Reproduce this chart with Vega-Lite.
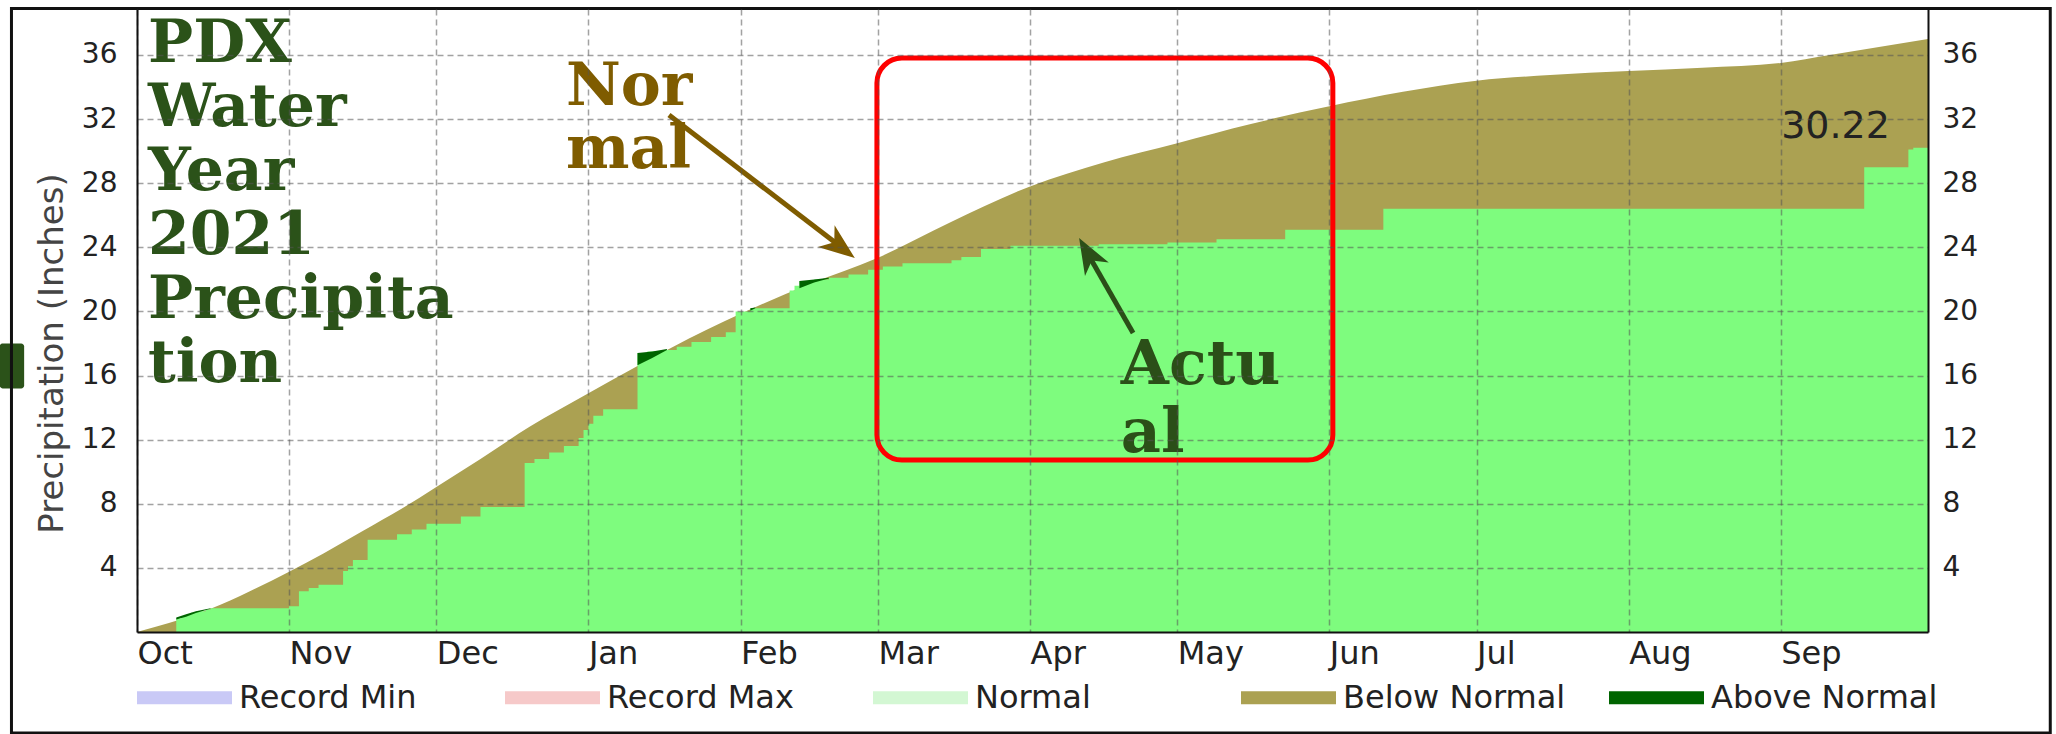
{
  "$schema": "https://vega.github.io/schema/vega-lite/v6.json",
  "width": 1791,
  "height": 623,
  "autosize": {"type": "none"},
  "padding": {"left": 137, "top": 9, "right": 128, "bottom": 102},
  "background": "white",
  "config": {
    "view": {"stroke": null},
    "axis": {"ticks": false, "tickSize": 0, "gridColor": "#555555", "gridOpacity": 0.55, "gridDash": [6, 4], "gridWidth": 1.5, "labelFont": "DejaVu Sans", "labelColor": "#222222", "titleFont": "DejaVu Sans"}
  },
  "datasets": {
    "normal": [
      {"date": "2020-10-01", "normal": 0.0},
      {"date": "2020-10-05", "normal": 0.35},
      {"date": "2020-10-10", "normal": 0.8},
      {"date": "2020-10-16", "normal": 1.45},
      {"date": "2020-10-24", "normal": 2.55},
      {"date": "2020-11-01", "normal": 3.76},
      {"date": "2020-11-08", "normal": 4.9},
      {"date": "2020-11-16", "normal": 6.3},
      {"date": "2020-11-24", "normal": 7.7},
      {"date": "2020-12-01", "normal": 9.05},
      {"date": "2020-12-10", "normal": 10.8},
      {"date": "2020-12-20", "normal": 12.8},
      {"date": "2021-01-01", "normal": 14.9},
      {"date": "2021-01-11", "normal": 16.6},
      {"date": "2021-01-18", "normal": 17.75},
      {"date": "2021-02-01", "normal": 19.85},
      {"date": "2021-02-15", "normal": 21.7},
      {"date": "2021-03-01", "normal": 23.35},
      {"date": "2021-03-16", "normal": 25.6},
      {"date": "2021-04-01", "normal": 27.8},
      {"date": "2021-04-16", "normal": 29.3},
      {"date": "2021-05-01", "normal": 30.5},
      {"date": "2021-05-16", "normal": 31.7},
      {"date": "2021-06-01", "normal": 32.8},
      {"date": "2021-06-16", "normal": 33.7},
      {"date": "2021-07-01", "normal": 34.4},
      {"date": "2021-07-16", "normal": 34.75},
      {"date": "2021-08-01", "normal": 35.0},
      {"date": "2021-08-16", "normal": 35.2},
      {"date": "2021-09-01", "normal": 35.5},
      {"date": "2021-09-11", "normal": 36.0},
      {"date": "2021-09-21", "normal": 36.5},
      {"date": "2021-10-01", "normal": 37.0}
    ],
    "actual": [
      {"date": "2020-10-01", "actual": 0.0},
      {"date": "2020-10-09", "actual": 0.85},
      {"date": "2020-10-10", "actual": 0.97},
      {"date": "2020-10-11", "actual": 1.08},
      {"date": "2020-10-12", "actual": 1.2},
      {"date": "2020-10-13", "actual": 1.3},
      {"date": "2020-10-15", "actual": 1.4},
      {"date": "2020-10-16", "actual": 1.48},
      {"date": "2020-11-01", "actual": 1.6},
      {"date": "2020-11-03", "actual": 2.55},
      {"date": "2020-11-05", "actual": 2.75},
      {"date": "2020-11-07", "actual": 2.95},
      {"date": "2020-11-12", "actual": 3.8},
      {"date": "2020-11-13", "actual": 4.1},
      {"date": "2020-11-14", "actual": 4.5},
      {"date": "2020-11-17", "actual": 5.75},
      {"date": "2020-11-23", "actual": 6.1},
      {"date": "2020-11-26", "actual": 6.4},
      {"date": "2020-11-29", "actual": 6.75},
      {"date": "2020-12-06", "actual": 7.2},
      {"date": "2020-12-10", "actual": 7.8},
      {"date": "2020-12-19", "actual": 10.55},
      {"date": "2020-12-21", "actual": 10.8},
      {"date": "2020-12-24", "actual": 11.2},
      {"date": "2020-12-27", "actual": 11.6},
      {"date": "2020-12-30", "actual": 12.1},
      {"date": "2020-12-31", "actual": 12.6},
      {"date": "2021-01-01", "actual": 13.0},
      {"date": "2021-01-02", "actual": 13.5},
      {"date": "2021-01-04", "actual": 13.9},
      {"date": "2021-01-11", "actual": 17.4},
      {"date": "2021-01-13", "actual": 17.5},
      {"date": "2021-01-16", "actual": 17.6},
      {"date": "2021-01-19", "actual": 17.8},
      {"date": "2021-01-22", "actual": 18.1},
      {"date": "2021-01-26", "actual": 18.4},
      {"date": "2021-01-29", "actual": 18.7},
      {"date": "2021-01-31", "actual": 20.0},
      {"date": "2021-02-03", "actual": 20.2},
      {"date": "2021-02-11", "actual": 21.3},
      {"date": "2021-02-12", "actual": 21.6},
      {"date": "2021-02-13", "actual": 21.9},
      {"date": "2021-02-16", "actual": 22.0},
      {"date": "2021-02-19", "actual": 22.1},
      {"date": "2021-02-23", "actual": 22.3},
      {"date": "2021-02-27", "actual": 22.6},
      {"date": "2021-03-02", "actual": 22.8},
      {"date": "2021-03-06", "actual": 23.0},
      {"date": "2021-03-16", "actual": 23.2},
      {"date": "2021-03-18", "actual": 23.4},
      {"date": "2021-03-22", "actual": 23.9},
      {"date": "2021-03-28", "actual": 24.1},
      {"date": "2021-04-15", "actual": 24.2},
      {"date": "2021-04-29", "actual": 24.3},
      {"date": "2021-05-09", "actual": 24.5},
      {"date": "2021-05-23", "actual": 25.1},
      {"date": "2021-06-12", "actual": 26.4},
      {"date": "2021-09-18", "actual": 29.0},
      {"date": "2021-09-27", "actual": 30.1},
      {"date": "2021-09-28", "actual": 30.22},
      {"date": "2021-10-01", "actual": 30.22}
    ],
    "above": [
      {"ep": 1, "date": "2020-10-09", "actual": 0.9, "normal": 0.78},
      {"ep": 1, "date": "2020-10-11", "actual": 1.1, "normal": 0.95},
      {"ep": 1, "date": "2020-10-13", "actual": 1.3, "normal": 1.18},
      {"ep": 1, "date": "2020-10-16", "actual": 1.48, "normal": 1.45},
      {"ep": 2, "date": "2021-01-11", "actual": 17.4, "normal": 16.65},
      {"ep": 2, "date": "2021-01-14", "actual": 17.5, "normal": 17.1},
      {"ep": 2, "date": "2021-01-17", "actual": 17.65, "normal": 17.6},
      {"ep": 3, "date": "2021-02-03", "actual": 20.2, "normal": 20.05},
      {"ep": 3, "date": "2021-02-04", "actual": 20.25, "normal": 20.2},
      {"ep": 4, "date": "2021-02-13", "actual": 21.9, "normal": 21.45},
      {"ep": 4, "date": "2021-02-16", "actual": 22.0, "normal": 21.8},
      {"ep": 4, "date": "2021-02-19", "actual": 22.1, "normal": 22.05}
    ]
  },
  "layer": [
    {
      "data": {"name": "normal"},
      "mark": {"type": "area", "interpolate": "monotone", "opacity": 1},
      "encoding": {
        "x": {
          "field": "date", "type": "temporal",
          "scale": {"type": "utc", "nice": false, "domain": [{"year": 2020, "month": 10, "date": 1, "utc": true}, {"year": 2021, "month": 10, "date": 1, "utc": true}]},
          "axis": {
            "title": null, "format": "%b", "grid": true, "zindex": 1,
            "values": [
              {"year": 2020, "month": 10, "date": 1, "utc": true},
              {"year": 2020, "month": 11, "date": 1, "utc": true},
              {"year": 2020, "month": 12, "date": 1, "utc": true},
              {"year": 2021, "month": 1, "date": 1, "utc": true},
              {"year": 2021, "month": 2, "date": 1, "utc": true},
              {"year": 2021, "month": 3, "date": 1, "utc": true},
              {"year": 2021, "month": 4, "date": 1, "utc": true},
              {"year": 2021, "month": 5, "date": 1, "utc": true},
              {"year": 2021, "month": 6, "date": 1, "utc": true},
              {"year": 2021, "month": 7, "date": 1, "utc": true},
              {"year": 2021, "month": 8, "date": 1, "utc": true},
              {"year": 2021, "month": 9, "date": 1, "utc": true}
            ],
            "labelAlign": "left", "labelBaseline": "top", "labelPadding": 6, "labelFontSize": 32,
            "labelOverlap": false, "labelFlush": false, "labelBound": false,
            "domain": true, "domainColor": "#111111", "domainWidth": 2
          }
        },
        "y": {
          "field": "normal", "type": "quantitative",
          "scale": {"domain": [0, 38.87], "nice": false, "zero": false},
          "axis": {
            "orient": "left", "values": [4, 8, 12, 16, 20, 24, 28, 32, 36], "grid": true, "zindex": 1,
            "labelFontSize": 28, "labelPadding": 20,
            "domain": true, "domainColor": "#111111", "domainWidth": 2,
            "title": "Precipitation (Inches)", "titleFontSize": 34, "titleColor": "#444444", "titleFontWeight": "normal",
            "titleX": -85, "titleY": 344, "titleAngle": 270, "titleAlign": "center", "titleBaseline": "middle"
          }
        },
        "color": {
          "datum": "Below Normal", "type": "nominal",
          "scale": {"domain": ["Record Min", "Record Max", "Normal", "Below Normal", "Above Normal"], "range": ["#c9c9f6", "#f6c9c9", "#d3f7d3", "#aba152", "#006400"]},
          "legend": {
            "orient": "none", "legendX": 0, "legendY": 641, "direction": "horizontal", "title": null,
            "symbolType": "M-1,-0.137H1V0.137H-1Z", "symbolSize": 9025, "symbolStrokeWidth": 0, "symbolOpacity": 1,
            "labelFont": "DejaVu Sans", "labelFontSize": 32, "labelColor": "#222222", "labelOffset": 7, "labelLimit": 400,
            "gridAlign": "all", "columnPadding": 39, "padding": 0
          }
        }
      }
    },
    {
      "data": {"name": "actual"},
      "mark": {"type": "area", "interpolate": "step-after", "color": "#7efc7e", "opacity": 1},
      "encoding": {
        "x": {"field": "date", "type": "temporal", "axis": null},
        "y": {
          "field": "actual", "type": "quantitative",
          "axis": {
            "orient": "right", "values": [4, 8, 12, 16, 20, 24, 28, 32, 36], "grid": false, "zindex": 1, "title": null,
            "labelFontSize": 28, "labelPadding": 14, "labelAlign": "left",
            "domain": true, "domainColor": "#111111", "domainWidth": 2
          }
        }
      }
    },
    {
      "data": {"name": "above"},
      "mark": {"type": "area", "interpolate": "linear", "opacity": 1},
      "encoding": {
        "x": {"field": "date", "type": "temporal", "axis": null},
        "y": {"field": "actual", "type": "quantitative", "axis": null},
        "y2": {"field": "normal"},
        "detail": {"field": "ep", "type": "nominal"},
        "color": {"datum": "Above Normal", "type": "nominal", "legend": null}
      }
    },
    {
      "data": {"values": [{}]},
      "mark": {"type": "rect", "filled": false, "stroke": "#ff0000", "strokeWidth": 5, "cornerRadius": 25},
      "encoding": {
        "x": {"datum": {"year": 2021, "month": 2, "date": 28, "hours": 19, "utc": true}, "type": "temporal", "axis": null},
        "x2": {"datum": {"year": 2021, "month": 6, "date": 1, "hours": 17, "utc": true}},
        "y": {"datum": 35.81, "type": "quantitative", "axis": null},
        "y2": {"datum": 10.73}
      }
    },
    {
      "data": {"values": [{}]},
      "mark": {"type": "rule", "color": "#7f5c00", "strokeWidth": 5},
      "encoding": {
        "x": {"datum": {"year": 2021, "month": 1, "date": 17, "hours": 10, "utc": true}, "type": "temporal", "axis": null},
        "x2": {"datum": {"year": 2021, "month": 2, "date": 21, "hours": 2, "utc": true}},
        "y": {"datum": 32.25, "type": "quantitative", "axis": null},
        "y2": {"datum": 24.11}
      }
    },
    {
      "data": {"values": [{}]},
      "mark": {"type": "point", "shape": "M0,0L-0.38,1L0,0.72L0.38,1Z", "size": 5184, "angle": 127.5, "filled": true, "color": "#7f5c00", "opacity": 1, "strokeWidth": 0},
      "encoding": {
        "x": {"datum": {"year": 2021, "month": 2, "date": 24, "hours": 7, "utc": true}, "type": "temporal", "axis": null},
        "y": {"datum": 23.33, "type": "quantitative", "axis": null}
      }
    },
    {
      "data": {"values": [{}]},
      "mark": {"type": "rule", "color": "#2b4f18", "strokeWidth": 5},
      "encoding": {
        "x": {"datum": {"year": 2021, "month": 4, "date": 22, "utc": true}, "type": "temporal", "axis": null},
        "x2": {"datum": {"year": 2021, "month": 4, "date": 13, "utc": true}},
        "y": {"datum": 18.65, "type": "quantitative", "axis": null},
        "y2": {"datum": 23.47}
      }
    },
    {
      "data": {"values": [{}]},
      "mark": {"type": "point", "shape": "M0,0L-0.38,1L0,0.72L0.38,1Z", "size": 5184, "angle": 330.4, "filled": true, "color": "#2b4f18", "opacity": 1, "strokeWidth": 0},
      "encoding": {
        "x": {"datum": {"year": 2021, "month": 4, "date": 11, "utc": true}, "type": "temporal", "axis": null},
        "y": {"datum": 24.58, "type": "quantitative", "axis": null}
      }
    },
    {
      "data": {"values": [{}]},
      "mark": {"type": "text", "text": ["PDX", "Water", "Year", "2021", "Precipita", "tion"], "font": "DejaVu Serif", "fontWeight": "bold", "fontSize": 60, "lineHeight": 64, "align": "left", "baseline": "alphabetic", "color": "#2b5219"},
      "encoding": {
        "x": {"datum": {"year": 2020, "month": 10, "date": 3, "hours": 6, "utc": true}, "type": "temporal", "axis": null},
        "y": {"datum": 35.56, "type": "quantitative", "axis": null}
      }
    },
    {
      "data": {"values": [{}]},
      "mark": {"type": "text", "text": ["Nor", "mal"], "font": "DejaVu Serif", "fontWeight": "bold", "fontSize": 60, "lineHeight": 63, "align": "left", "baseline": "alphabetic", "color": "#7f5c00"},
      "encoding": {
        "x": {"datum": {"year": 2020, "month": 12, "date": 27, "hours": 10, "utc": true}, "type": "temporal", "axis": null},
        "y": {"datum": 32.88, "type": "quantitative", "axis": null}
      }
    },
    {
      "data": {"values": [{}]},
      "mark": {"type": "text", "text": ["Actu", "al"], "font": "DejaVu Serif", "fontWeight": "bold", "fontSize": 62, "lineHeight": 68, "align": "left", "baseline": "alphabetic", "color": "#2b4f18"},
      "encoding": {
        "x": {"datum": {"year": 2021, "month": 4, "date": 19, "hours": 12, "utc": true}, "type": "temporal", "axis": null},
        "y": {"datum": 15.47, "type": "quantitative", "axis": null}
      }
    },
    {
      "data": {"values": [{}]},
      "mark": {"type": "text", "text": "30.22", "font": "DejaVu Sans", "fontSize": 38, "align": "right", "baseline": "middle", "color": "#222222"},
      "encoding": {
        "x": {"datum": {"year": 2021, "month": 9, "date": 23, "hours": 6, "utc": true}, "type": "temporal", "axis": null},
        "y": {"datum": 31.5, "type": "quantitative", "axis": null}
      }
    },
    {
      "data": {"values": [{}]},
      "mark": {"type": "rect", "color": "#2b5219", "cornerRadius": 3},
      "encoding": {
        "x": {"datum": {"year": 2020, "month": 9, "date": 3, "utc": true}, "type": "temporal", "axis": null},
        "x2": {"datum": {"year": 2020, "month": 9, "date": 8, "utc": true}},
        "y": {"datum": 18.0, "type": "quantitative", "axis": null},
        "y2": {"datum": 15.2}
      }
    },
    {
      "data": {"values": [{}]},
      "mark": {"type": "rect", "filled": false, "stroke": "#111111", "strokeWidth": 3},
      "encoding": {
        "x": {"datum": {"year": 2020, "month": 9, "date": 5, "hours": 10, "utc": true}, "type": "temporal", "axis": null},
        "x2": {"datum": {"year": 2021, "month": 10, "date": 25, "hours": 22, "utc": true}},
        "y": {"datum": -6.3, "type": "quantitative", "axis": null},
        "y2": {"datum": 38.9}
      }
    }
  ],
  "resolve": {"axis": {"x": "independent", "y": "independent"}}
}
